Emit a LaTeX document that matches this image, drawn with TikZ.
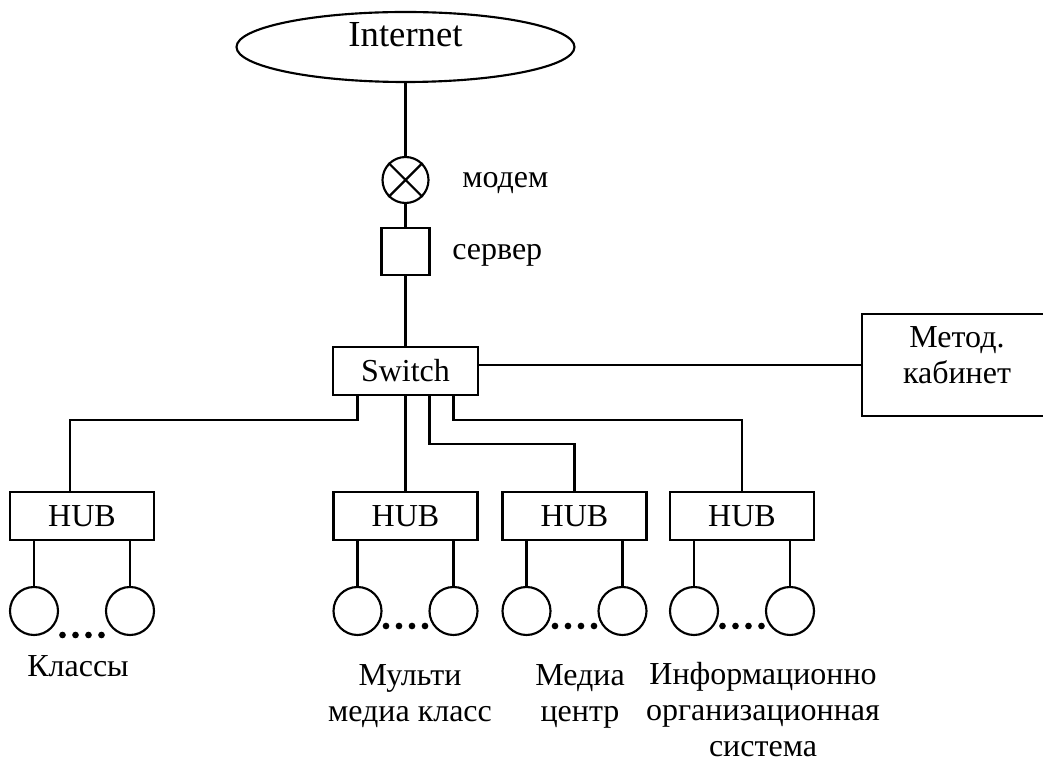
\documentclass[tikz,border=0pt]{standalone}
\usepackage{fontspec}
\setmainfont{Liberation Serif}
\usetikzlibrary{shapes}

\newcommand{\lblfont}{\fontsize{24}{27.5}\selectfont}

\tikzset{
  net/.style={line width=1.6pt},
  unit/.style={draw, rectangle, line width=1.6pt, inner sep=0pt, font=\lblfont},
  pc/.style={draw, circle, line width=1.6pt, minimum size=36pt, inner sep=0pt},
  txt/.style={inner sep=0pt, font=\lblfont, align=center},
}

\begin{document}
\begin{tikzpicture}[x=0.75pt,y=0.75pt,yscale=-1,xscale=1]
\useasboundingbox (0,0) rectangle (1043,762);
\clip (0,0) rectangle (1043,762);

%Ellipse
\node [draw, ellipse, line width=1.6pt, minimum width=253.5pt, minimum height=52.5pt] (inet) at (405.5,47) {};
% Text Node
\node [txt, anchor=base, font=\fontsize{27.5}{32}\selectfont] (inettxt) at (405.5,47) {Internet};

%Circle (modem)
\node [pc, minimum size=34.5pt] (modem) at (405.5,180) {};
\draw [net] (modem.45) -- (modem.225) (modem.135) -- (modem.315);
%Shape: Square (server)
\node [unit, minimum width=36pt, minimum height=35.25pt] (srv) at (405.5,251.5) {};
%Shape: Rectangle
\node [unit, minimum width=108.75pt, minimum height=36pt] (sw) at (405.5,371) {Switch};
\node [unit, minimum width=142.5pt, minimum height=76.5pt] (metod) at (957,365) {};
% Text Node
\node [txt, anchor=north] (metodtxt) at (957,326) {Метод.\\кабинет};

%HUBs and workstations
\foreach \n/\x/\dy in {1/82/635,2/405.5/626,3/574.5/626,4/742/626}{
  \node [unit, minimum width=108pt, minimum height=36pt] (hub\n) at (\x,516) {HUB};
  \node [pc] (pcl\n) at (\x-48,611) {};
  \node [pc] (pcr\n) at (\x+48,611) {};
  \draw [net] (hub\n.south -| pcl\n) -- (pcl\n.north);
  \draw [net] (hub\n.south -| pcr\n) -- (pcr\n.north);
  \foreach \d in {-19.5,-6.5,6.5,19.5}
    \fill (\x+\d,\dy) circle (2.5pt);
}

%Straight Lines
\draw [net] (inet.south) -- (modem.north);
\draw [net] (modem.south) -- (srv.north);
\draw [net] (srv.south) -- (sw.north);
\draw [net] (metod.west -| sw.east) -- (metod.west);
\draw [net] ([xshift=-36pt]sw.south) -- ++(0,24) -| ([xshift=-9pt]hub1.north);
\draw [net] (sw.south) -- (hub2.north);
\draw [net] ([xshift=18pt]sw.south) -- ++(0,48) -| (hub3.north);
\draw [net] ([xshift=36pt]sw.south) -- ++(0,24) -| (hub4.north);

% Text Node
\node [txt, anchor=base west] (modemtxt) at (462,188) {модем};
% Text Node
\node [txt, anchor=base west] (srvtxt) at (452,260) {сервер};
% Text Node
\node [txt, anchor=north] (lbl1) at (78,655) {Классы};
% Text Node
\node [txt, anchor=north] (lbl2) at (410,664) {Мульти\\медиа класс};
% Text Node
\node [txt, anchor=north] (lbl3) at (580,664) {Медиа\\центр};
% Text Node
\node [txt, anchor=north, font=\fontsize{24}{27}\selectfont] (lbl4) at (763,662) {Информационно\\организационная\\система};
\end{tikzpicture}
\end{document}
